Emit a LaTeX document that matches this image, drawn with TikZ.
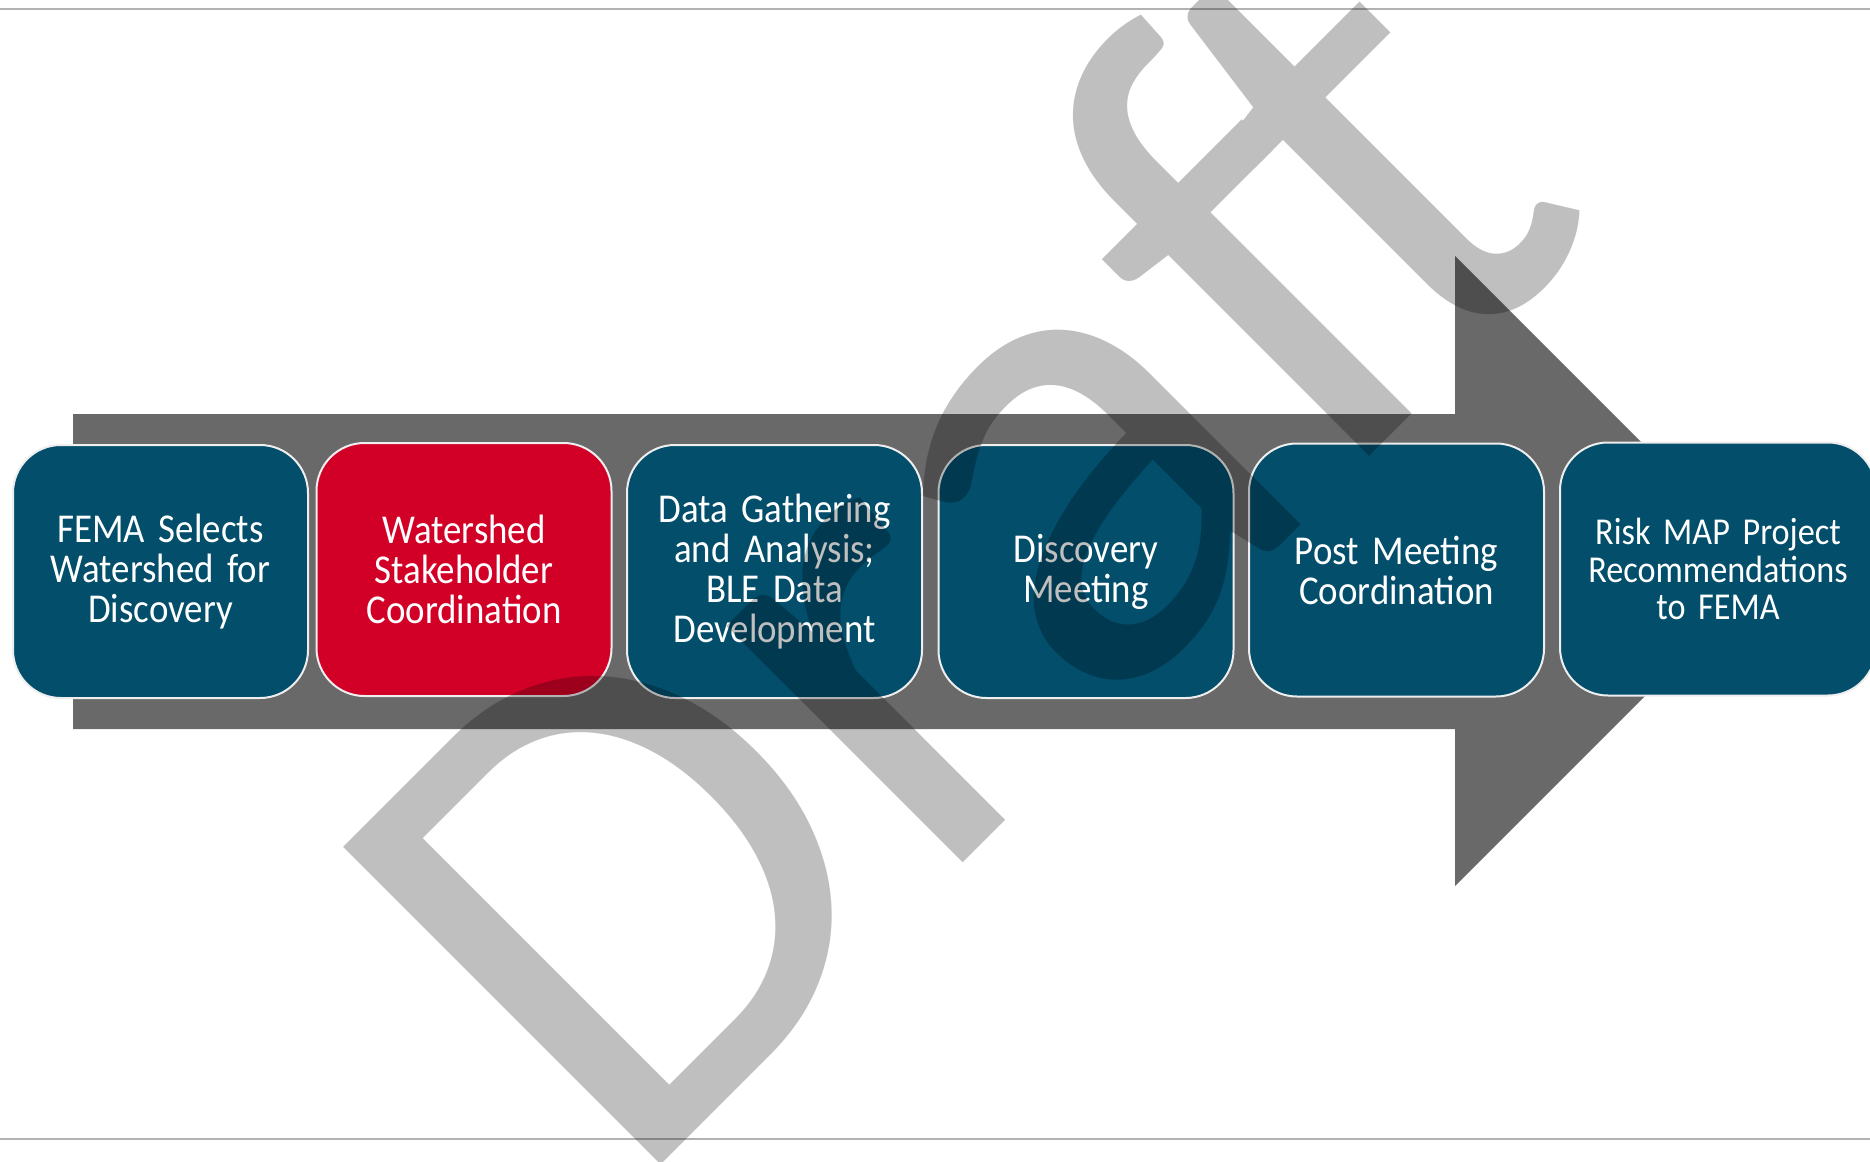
\documentclass[tikz,border=0pt]{standalone}
\usepackage{fontspec}
\setmainfont{Carlito}
\newfontfamily\boxfont[FakeStretch=0.9]{Carlito}
\newfontfamily\markfont[Ligatures={NoCommon}]{Carlito}
\definecolor{boxblue}{RGB}{2,78,107}
\definecolor{boxred}{RGB}{210,0,39}
\definecolor{arrowgray}{RGB}{105,105,105}
\definecolor{rulegray}{RGB}{178,178,178}
\definecolor{boxedge}{RGB}{238,238,238}
\begin{document}
\begin{tikzpicture}[x=0.5pt,y=-0.5pt,
  stepbox/.style={draw=boxedge, line width=1pt, rounded corners=24pt,
    minimum width=147.5pt, minimum height=126.5pt, text width=140pt,
    align=center, text=white, inner sep=0pt,
    font=\boxfont\fontsize{20.5}{20}\selectfont},
  bluebox/.style={stepbox, fill=boxblue},
  redbox/.style={stepbox, fill=boxred},
  rule/.style={draw=rulegray, line width=1pt},
  watermark/.style={rotate=45, anchor=base west, inner sep=0pt,
    text=black, font=\markfont\fontsize{350}{350}\selectfont}
]
\useasboundingbox (0,0) rectangle (1870,1162);
\clip (0,0) rectangle (1870,1162);
\fill[white] (0,0) rectangle (1870,1162);
% rules
\coordinate (tl) at (0,8.5);
\coordinate (tr) at (1870,8.5);
\coordinate (bl) at (0,1139);
\coordinate (br) at (1870,1139);
\draw[rule] (tl) -- (tr);
\draw[rule] (bl) -- (br);
% big arrow
\fill[arrowgray] (73,414) -- (1455,414) -- (1455,256) -- (1770,571)
  -- (1455,886) -- (1455,729) -- (73,729) -- cycle;
% boxes
\node[bluebox] (b1) at (160.5,571.5) {FEMA Selects\\Watershed for\\Discovery};
\node[redbox]  (b2) at (464,569.5) {Watershed\\Stakeholder\\Coordination};
\node[bluebox] (b3) at (774.5,571.5) {Data Gathering\\and Analysis;\\BLE Data\\Development};
\node[bluebox] (b4) at (1086,571.5) {Discovery\\Meeting};
\node[bluebox] (b5) at (1396.5,570) {Post Meeting\\Coordination};
\node[bluebox, minimum width=158pt, text width=150pt,
  font=\boxfont\fontsize{19}{18.75}\selectfont] (b6) at (1718,569)
  {Risk MAP Project\\Recommendations\\to FEMA};
% watermark
\begin{scope}[transparency group, opacity=0.25]
\node[watermark] (wm) at (627,1199) {Draf\kern-0.08em t};
\end{scope}
\end{tikzpicture}
\end{document}
